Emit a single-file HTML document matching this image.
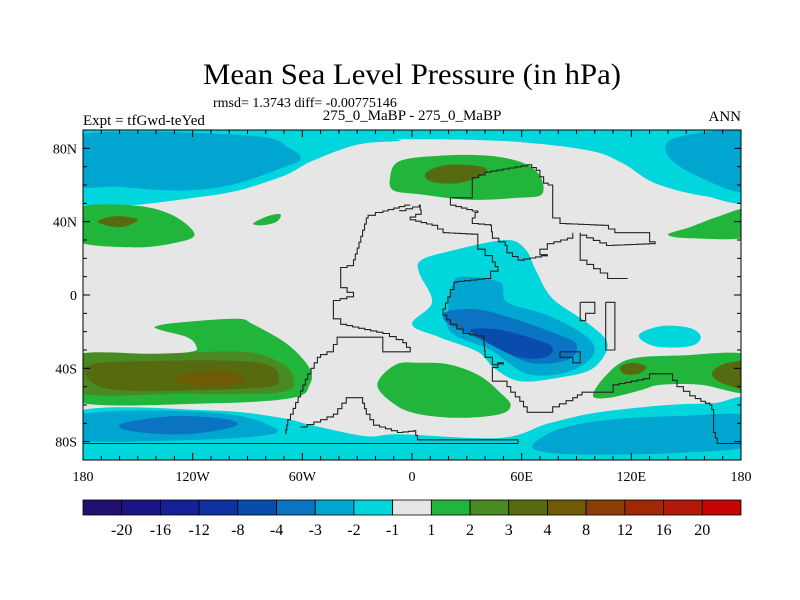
<!DOCTYPE html>
<html><head><meta charset="utf-8"><style>
html,body{margin:0;padding:0;background:#fff;}
svg{display:block;font-family:"Liberation Serif",serif;}
</style></head><body>
<svg id="chart" width="800" height="600" viewBox="0 0 800 600" xmlns="http://www.w3.org/2000/svg">
<defs><clipPath id="mapclip"><rect x="83" y="130" width="658" height="330"/></clipPath></defs>
<text x="412" y="84" font-size="30" text-anchor="middle" textLength="418" lengthAdjust="spacingAndGlyphs">Mean Sea Level Pressure (in hPa)</text>
<text x="213" y="107" font-size="14">rmsd= 1.3743 diff= -0.00775146</text>
<text x="412" y="120" font-size="15" text-anchor="middle">275_0_MaBP - 275_0_MaBP</text>
<text x="83" y="125" font-size="15">Expt = tfGwd-teYed</text>
<text x="741" y="121" font-size="15" text-anchor="end">ANN</text>
<g id="map" clip-path="url(#mapclip)"></g>
<g id="axes"></g>
<g id="cbar"></g>
</svg>
<script>
const levelLabels=["-20","-16","-12","-8","-4","-3","-2","-1","1","2","3","4","8","12","16","20"];
const levelColors=["#211070","#1a1584","#142196","#0f31a2","#0a4cae","#0a73c2","#00a6cf","#00d6dc","#e6e6e6","#21b53c","#4a8a22","#566b10","#6f5a05","#8c3e08","#a02806","#b3180a","#c80505"];
const lonTicks=[-180,-120,-60,0,60,120,180];
const lonTickLabels=["180","120W","60W","0","60E","120E","180"];
const latTicks=[80,40,0,-40,-80];
const latTickLabels=["80N","40N","0","40S","80S"];
// contour regions: [colorIndex, [[lon,lat],...]]
const cyanNorth=[7,[[185,53],[160,54],[133,61],[115,72],[96,79],[50,84],[-4,85],[-7,84],[-30,82],[-55,73],[-73,64],[-112,54],[-185,51],[-185,95],[185,95]]];
const blueNorthW=[6,[[-185,87],[-89,87],[-67,80],[-61,74],[-72,69],[-99,60],[-127,57],[-160,59],[-185,61]]];
const blueNorthE=[6,[[145,86],[185,88],[185,57],[158,64],[140,76]]];
const greenNW=[9,[[-185,47],[-154,49],[-132,44],[-119,33],[-132,28],[-154,26],[-185,30]]];
const oliveNW=[11,[[-172,40],[-162,43],[-150,41],[-160,37]]];
const greenSmall=[9,[[-87,39],[-79,43],[-72,44],[-74,40],[-82,38]]];
const greenNC=[9,[[-12,64],[-7,73],[15,76],[42,76],[61,72],[70,65],[71,55],[58,53],[31,52],[4,55],[-10,57]]];
const oliveNC=[11,[[8,67],[20,71],[38,70],[40,66],[25,61],[10,62]]];
const greenNE=[9,[[140,33],[152,37],[168,43],[185,47],[185,32],[152,31]]];
const cyanC=[7,[[5,19],[21,24],[51,30],[62,25],[68,13],[77,-2],[97,-16],[107,-27],[99,-40],[81,-45],[59,-47],[45,-40],[36,-31],[15,-23],[0,-16],[11,-4],[4,12]]];
const blueC=[6,[[27,10],[48,7],[52,-4],[74,-11],[96,-23],[99,-33],[85,-42],[63,-43],[43,-30],[21,-20],[20,-5],[22,5]]];
const blue2C=[5,[[19,-9],[37,-8],[59,-14],[81,-22],[90,-27],[86,-35],[65,-37],[43,-27],[26,-19],[18,-14]]];
const blue3C=[4,[[32,-19],[48,-19],[70,-25],[77,-29],[73,-34],[59,-34],[43,-27]]];
const cyanE=[7,[[124,-22],[136,-17],[152,-18],[158,-23],[152,-28],[133,-28]]];
const greenSA=[9,[[-19,-49],[-9,-38],[4,-37],[21,-38],[37,-44],[48,-53],[54,-60],[48,-65],[26,-67],[4,-65],[-9,-60]]];
const greenSE=[9,[[99,-55],[106,-44],[119,-35],[147,-33],[185,-33],[185,-53],[158,-49],[136,-49],[125,-52],[108,-56]]];
const oliveSE1=[11,[[114,-39],[121,-37],[128,-39],[124,-43],[116,-43]]];
const oliveSE2=[11,[[165,-41],[173,-37],[185,-37],[185,-51],[172,-49],[165,-45]]];
const greenSW=[9,[[-185,-34],[-145,-33],[-121,-31],[-118,-28],[-123,-23],[-138,-19],[-140,-17],[-127,-15],[-96,-13],[-87,-16],[-68,-27],[-56,-40],[-56,-49],[-65,-56],[-109,-59],[-185,-58]]];
const oliveSW=[10,[[-185,-33],[-140,-32],[-92,-31],[-72,-37],[-65,-45],[-72,-53],[-127,-54],[-185,-53]]];
const darkOliveSW=[11,[[-176,-38],[-143,-36],[-94,-36],[-77,-39],[-73,-45],[-78,-50],[-116,-52],[-160,-52],[-176,-47]]];
const brownSW=[12,[[-128,-44],[-108,-41],[-92,-44],[-95,-48],[-115,-50],[-128,-47]]];
const cyanSouth=[7,[[-185,-64],[-109,-63],[-72,-67],[-55,-71],[-25,-77],[-7,-76],[48,-78],[75,-70],[102,-64],[140,-60],[165,-59],[185,-58],[185,-95],[-185,-95]]];
const blueSW=[6,[[-185,-66],[-145,-63],[-100,-65],[-78,-71],[-77,-76],[-117,-79],[-185,-79]]];
const blue2SW=[5,[[-158,-70],[-130,-66],[-100,-68],[-98,-72],[-125,-76],[-155,-74]]];
const blueSE=[6,[[66,-82],[81,-73],[108,-68],[147,-66],[185,-66],[185,-82],[147,-86],[103,-87],[75,-86]]];
const regions=[cyanNorth,blueNorthW,blueNorthE,greenNW,oliveNW,greenSmall,greenNC,oliveNC,greenNE,cyanC,blueC,blue2C,blue3C,cyanE,greenSA,greenSE,oliveSE1,oliveSE2,greenSW,oliveSW,darkOliveSW,brownSW,cyanSouth,blueSW,blue2SW,blueSE];
const coasts=[
[[-1,49],[-16,45],[-24,42],[-27,32],[-32,16],[-39,14],[-39,4],[-32,-1],[-43,-4],[-43,-13],[-39,-16],[-16,-21],[-5,-26],[-1,-31],[-16,-31],[-16,-23],[-39,-23],[-43,-31],[-50,-34],[-57,-46],[-65,-65],[-68,-71],[-69,-76]],
[[-61,-72],[-50,-68],[-43,-65],[-36,-56],[-28,-56],[-25,-65],[-21,-71],[-8,-75],[1,-74],[3,-79],[58,-79],[58,-81]],
[[-180,-81],[58,-81]],
[[-7,46],[4,49],[5,44],[-1,41],[11,38],[17,34],[36,33],[36,25],[44,18],[47,13],[43,9],[25,7],[21,-1],[17,-11],[21,-16],[28,-21],[39,-23],[40,-34],[44,-38],[50,-37],[44,-42],[44,-47],[50,-47],[54,-53],[59,-58],[63,-64],[77,-64],[77,-61],[88,-56],[93,-53],[110,-53],[110,-49],[130,-45],[130,-43],[140,-43],[145,-50],[152,-55],[158,-58],[163,-60],[165,-65],[165,-75],[167,-81],[180,-81]],
[[21,49],[21,53],[33,53],[33,64],[40,67],[63,71],[68,68],[72,61],[77,59],[77,42],[81,39],[104,38],[111,34],[130,34],[130,29],[133,28],[110,27],[92,34],[92,19],[103,12],[107,9],[118,9]],
[[21,49],[36,45],[33,39],[43,38],[44,31],[51,27],[52,23],[58,19],[74,22],[70,25],[74,28],[85,31],[88,34]],
[[92,-4],[100,-4],[100,-10],[95,-10],[95,-14],[92,-14],[92,-4]],
[[81,-31],[92,-31],[92,-37],[88,-37],[88,-34],[81,-34],[81,-31]],
[[106,-4],[111,-4],[111,-30],[106,-30],[106,-4]]
];
const X0=83,X1=741,Y0=130,Y1=460;
const xS=lon=>X0+(lon+180)/360*(X1-X0);
const yS=lat=>Y0+(90-lat)/180*(Y1-Y0);
const NS="http://www.w3.org/2000/svg";
function mk(tag,attrs,parent){const e=document.createElementNS(NS,tag);for(const k in attrs)e.setAttribute(k,attrs[k]);parent.appendChild(e);return e;}
function smooth(pts){const p=pts.map(q=>[xS(q[0]),yS(q[1])]);const n=p.length;let d="M"+p[0][0].toFixed(1)+","+p[0][1].toFixed(1);
for(let i=0;i<n;i++){const a=p[(i-1+n)%n],b=p[i],c=p[(i+1)%n],e=p[(i+2)%n];
const c1=[b[0]+(c[0]-a[0])/6,b[1]+(c[1]-a[1])/6],c2=[c[0]-(e[0]-b[0])/6,c[1]-(e[1]-b[1])/6];
d+="C"+c1.map(v=>v.toFixed(1)).join(",")+" "+c2.map(v=>v.toFixed(1)).join(",")+" "+c[0].toFixed(1)+","+c[1].toFixed(1);}
return d+"Z";}
function stepped(c){const pts=[];const st=6;
for(let i=0;i<c.length;i++){const x=xS(c[i][0]),y=yS(c[i][1]);
if(i===0){pts.push([x,y]);continue;}
const [px,py]=pts[pts.length-1];const dx=x-px,dy=y-py;const k=Math.max(1,Math.round(Math.max(Math.abs(dx),Math.abs(dy))/st));
let cx=px,cy=py;for(let j=1;j<=k;j++){const nx=px+dx*j/k,ny=py+dy*j/k;pts.push([nx,cy]);pts.push([nx,ny]);cx=nx;cy=ny;}}
return pts.map(p=>p[0].toFixed(1)+","+p[1].toFixed(1)).join(" ");}
const map=document.getElementById('map');
const bg=mk('rect',{x:X0,y:Y0,width:X1-X0,height:Y1-Y0,fill:levelColors[8]},map);


regions.forEach((r,i)=>{const p=mk('path',{d:smooth(r[1]),fill:levelColors[r[0]]},map);

});
coasts.forEach((c,i)=>{const p=mk('polyline',{points:stepped(c),fill:"none",stroke:"#222","stroke-width":1.1},map);

});
const ax=document.getElementById('axes');
const fr=mk('rect',{x:X0,y:Y0,width:X1-X0,height:Y1-Y0,fill:"none",stroke:"#000","stroke-width":1},ax);


for(let lon=-180;lon<=180;lon+=10){const L=lon%60===0?7:4;const x=xS(lon);
mk('line',{x1:x,y1:Y0,x2:x,y2:Y0+L,stroke:"#000"},ax);mk('line',{x1:x,y1:Y1,x2:x,y2:Y1-L,stroke:"#000"},ax);}
for(let lat=-90;lat<=90;lat+=10){const L=(lat+80)%40===0?7:4;const y=yS(lat);
mk('line',{x1:X0,y1:y,x2:X0+L,y2:y,stroke:"#000"},ax);mk('line',{x1:X1,y1:y,x2:X1-L,y2:y,stroke:"#000"},ax);}
lonTicks.forEach((lon,i)=>{const t=mk('text',{x:xS(lon),y:481,"font-size":14,"text-anchor":"middle"},ax);t.textContent=lonTickLabels[i];

});
latTicks.forEach((lat,i)=>{const t=mk('text',{x:77,y:yS(lat)+5,"font-size":14,"text-anchor":"end"},ax);t.textContent=latTickLabels[i];

});
const cb=document.getElementById('cbar');const n=levelColors.length;const w=(X1-X0)/n;
levelColors.forEach((c,i)=>{const r=mk('rect',{x:X0+i*w,y:500,width:w,height:15,fill:c,stroke:"#000","stroke-width":0.8},cb);

});
levelLabels.forEach((s,i)=>{const t=mk('text',{x:X0+(i+1)*w,y:535,"font-size":16,"text-anchor":"middle"},cb);t.textContent=s;

});
</script>
</body></html>
